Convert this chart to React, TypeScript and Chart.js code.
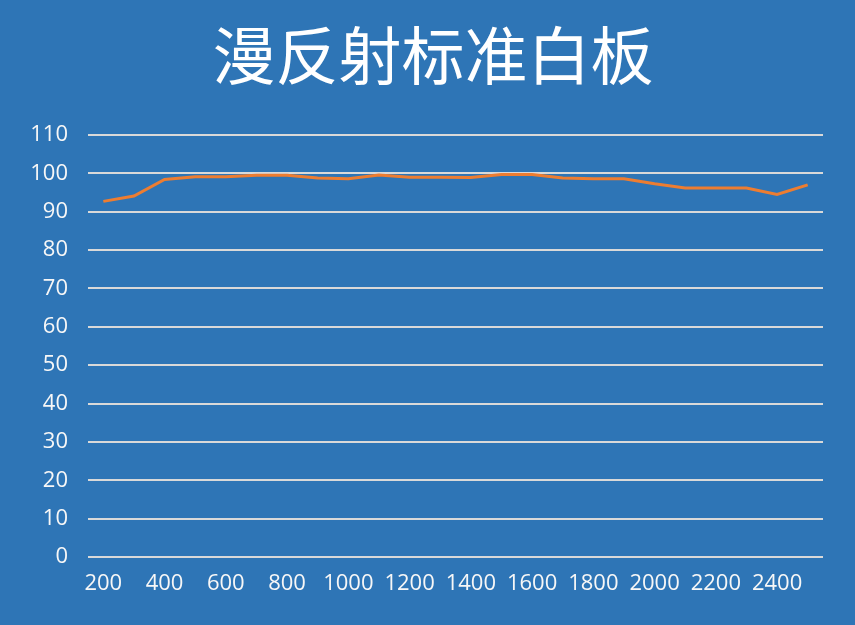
import React, { useEffect, useRef } from "react";
import { Chart, registerables } from "chart.js";

Chart.register(...registerables);

const wavelengths = [200, 300, 400, 500, 600, 700, 800, 900, 1000, 1100, 1200, 1300, 1400, 1500, 1600, 1700, 1800, 1900, 2000, 2100, 2200, 2300, 2400, 2500];
const reflectance = [92.7, 94.1, 98.4, 99.1, 99.1, 99.5, 99.5, 98.8, 98.6, 99.6, 99.0, 99.0, 98.9, 99.7, 99.7, 98.8, 98.6, 98.6, 97.3, 96.2, 96.2, 96.2, 94.5, 97.0];
const titleText = "漫反射标准白板";
const yMin = 0;
const yMax = 110;
const yStep = 10;

const titlePlugin = {
  id: "centerTitle",
  afterDraw(chart: any) {
    const c = chart.ctx;
    c.save();
    c.fillStyle = "#ffffff";
    c.font = "normal 63px 'Noto Sans CJK SC', sans-serif";
    c.textAlign = "center";
    c.textBaseline = "middle";
    c.fillText(titleText, 433, 55);
    c.restore();
  },
};

export default function App() {
  const ref = useRef<HTMLCanvasElement | null>(null);
  useEffect(() => {
    document.body.style.margin = "0";
    const ctx = ref.current!;
    const chart = new Chart(ctx, {
      type: "line",
      data: {
        labels: wavelengths.map(String),
        datasets: [
          {
            data: reflectance,
            borderColor: "#ed7d31",
            borderWidth: 3,
            pointRadius: 0,
            tension: 0,
            fill: false,
          },
        ],
      },
      plugins: [titlePlugin],
      options: {
        animation: false,
        responsive: false,
        maintainAspectRatio: false,
        layout: { padding: { left: 0, right: 32, top: 135, bottom: 0 } },
        plugins: {
          legend: { display: false },
          tooltip: { enabled: false },
          title: { display: false },
        },
        scales: {
          x: {
            type: "category",
            offset: true,
            grid: { display: false },
            border: { display: false },
            ticks: {
              color: "#f7f7f7",
              font: { family: "'Open Sans', sans-serif", size: 22 },
              autoSkip: false,
              maxRotation: 0,
              padding: 6,
              callback: function (_v: any, i: number) {
                return i % 2 === 0 ? String(wavelengths[i]) : "";
              },
            },
            afterFit: (s: any) => {
              s.height = 68;
            },
          },
          y: {
            min: yMin,
            max: yMax,
            grid: { color: "#d9d9d9", lineWidth: 2, drawTicks: false },
            border: { display: false },
            ticks: {
              stepSize: yStep,
              color: "#f7f7f7",
              font: { family: "'Open Sans', sans-serif", size: 22 },
              padding: 20,
            },
            afterFit: (s: any) => {
              s.width = 88;
            },
          },
        },
      },
    });
    return () => chart.destroy();
  }, []);
  return (
    <div style={{ position: "fixed", left: 0, top: 0, width: 855, height: 625, background: "#2e75b6" }}>
      <canvas ref={ref} width={855} height={625} style={{ width: 855, height: 625 }} />
    </div>
  );
}
